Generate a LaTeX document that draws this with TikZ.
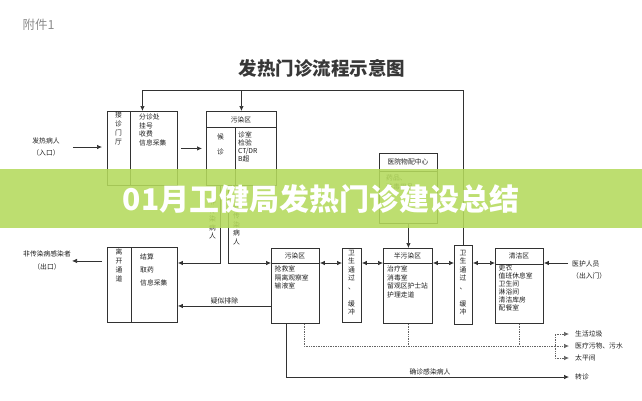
\documentclass[tikz,border=0pt]{standalone}
\usepackage{fontspec}
\setmainfont{Noto Sans CJK SC}
\usetikzlibrary{arrows.meta,positioning}
\definecolor{linegray}{RGB}{50,50,50}
\definecolor{textgray}{RGB}{30,30,30}
\definecolor{titlegray}{RGB}{55,55,55}
\definecolor{notegray}{RGB}{140,140,140}
\definecolor{dotgray}{RGB}{100,100,100}
\definecolor{bannergreen}{RGB}{180,218,92}

\tikzset{
  area/.style={draw=linegray, line width=0.9pt, inner sep=0pt, anchor=north west},
  rule/.style={draw=linegray, line width=0.9pt},
  item/.style={font=\fontsize{6.8}{8.5}\selectfont, text=textgray, inner sep=0pt, anchor=north west, align=left},
  vcol/.style={font=\fontsize{6.8}{9}\selectfont, text=textgray, inner sep=0pt, anchor=north, align=center},
  head/.style={font=\fontsize{6.8}{7}\selectfont, text=textgray, inner sep=0pt},
  lbl/.style={font=\fontsize{6.8}{7}\selectfont, text=textgray, inner sep=1pt},
  flow/.style={draw=linegray, line width=0.7pt, -{Latex[length=5pt,width=4.5pt]}},
  both/.style={flow, {Latex[length=5pt,width=4.5pt]}-{Latex[length=5pt,width=4.5pt]}},
  waste/.style={flow, draw=dotgray, densely dotted},
  dots/.style={draw=dotgray, line width=0.7pt, densely dotted},
}

\begin{document}
\begin{tikzpicture}[x=1pt, y=-1pt]
  \useasboundingbox (0,0) rectangle (642,400);

  % Heading
  \node[anchor=west, font=\fontsize{12.5}{13}\selectfont, text=notegray] (annex) at (19,25) {附件1};
  \node[font=\fontsize{18.5}{19}\selectfont\bfseries, text=titlegray] (title) at (322,68) {发热门诊流程示意图};

  % Areas
  \node[area, minimum width=70pt, minimum height=74pt] (recp) at (107,111) {};
  \node[area, minimum width=70pt, minimum height=74pt] (wait) at (206,111) {};
  \node[area, minimum width=58pt, minimum height=70pt] (supply) at (379,153) {};
  \node[area, minimum width=70pt, minimum height=75pt] (exitb) at (107,247) {};
  \node[area, minimum width=48pt, minimum height=75pt] (polz) at (271,248) {};
  \node[area, minimum width=19pt, minimum height=74pt] (buf1) at (342,248) {};
  \node[area, minimum width=49pt, minimum height=75pt] (semi) at (383,248) {};
  \node[area, minimum width=18pt, minimum height=79pt] (buf2) at (454,245) {};
  \node[area, minimum width=48pt, minimum height=75pt] (clean) at (495,248) {};

  % Inner rules
  \draw[rule] ([xshift=23pt]recp.north west) -- ([xshift=23pt]recp.south west);
  \draw[rule] ([yshift=-16pt]wait.north west) -- ([yshift=-16pt]wait.north east);
  \draw[rule] ([xshift=29pt,yshift=-16pt]wait.north west) -- ([xshift=29pt]wait.south west);
  \draw[rule] ([yshift=-18pt]supply.north west) -- ([yshift=-18pt]supply.north east);
  \draw[rule] ([xshift=24pt]exitb.north west) -- ([xshift=24pt]exitb.south west);
  \foreach \zone/\dy in {polz/15, semi/15, clean/16}
    \draw[rule] ([yshift=-\dy pt]\zone.north west) -- ([yshift=-\dy pt]\zone.north east);

  % Texts in areas
  \node[vcol] (recpL) at (118.5,112) {接\\诊\\门\\厅};
  \node[item] (recpR) at (139,114) {分诊处\\挂号\\收费\\信息采集};
  \node[head] (waitH) at (241,120) {污染区};
  \node[vcol] (waitL) at (220.5,134) {候\\[6pt]诊};
  \node[item, font=\fontsize{6.8}{8}\selectfont] (waitR) at (238,132) {诊室\\检验\\CT/DR\\B超};
  \node[head] (supplyH) at (408,162) {医院物配中心};
  \node[item] (supplyR) at (386,175) {药品、\\消毒用品};
  \node[vcol] (exitL) at (119,249) {离\\开\\通\\道};
  \node[item, font=\fontsize{6.8}{13}\selectfont] (exitR) at (140,254) {结算\\取药\\信息采集};
  \node[head] (polzH) at (295,255.5) {污染区};
  \node[item] (polzR) at (274.5,266) {抢救室\\隔离观察室\\输液室};
  \node[vcol, font=\fontsize{6.8}{8.5}\selectfont] (buf1T) at (351.5,250) {卫\\生\\通\\过\\、\\[8.5pt]缓\\冲};
  \node[head] (semiH) at (407.5,255.5) {半污染区};
  \node[item] (semiR) at (387,266) {治疗室\\消毒室\\留观区护士站\\护理走道};
  \node[vcol, font=\fontsize{6.8}{8.5}\selectfont] (buf2T) at (463,250) {卫\\生\\通\\过\\、\\[8.5pt]缓\\冲};
  \node[head] (cleanH) at (519,256) {清洁区};
  \node[item, font=\fontsize{6.8}{8}\selectfont] (cleanR) at (498.5,265) {更衣\\值班休息室\\卫生间\\淋浴间\\清洁库房\\配餐室};

  % Outside labels
  \node[lbl, align=center] (inp) at (46,147) {发热病人\\[5pt]（入口）};
  \node[lbl, align=center] (outp) at (47,260.5) {非传染病感染者\\[6pt]（出口）};
  \node[lbl, align=left, anchor=west] (staff) at (571,270) {医护人员\\[5pt]（出入门）};
  \node[vcol, font=\fontsize{6.8}{8.5}\selectfont] (nonL) at (212.5,199) {非\\传\\染\\病\\人};
  \node[vcol, font=\fontsize{6.8}{8.5}\selectfont] (susL) at (236.5,196) {疑\\似\\传\\染\\病\\人};
  \node[lbl, anchor=west] (trash) at (574,334) {生活垃圾};
  \node[lbl, anchor=west] (medw) at (574,346) {医疗污物、污水};
  \node[lbl, anchor=west] (morgue) at (574,358) {太平间};
  \node[lbl, anchor=west] (refer) at (574,377) {转诊};

  % Patient flow
  \coordinate (topL) at (143,90);
  \coordinate (row) at (0,263);
  \draw[flow] (buf2.north) |- (recp.north |- topL) -- (recp.north);
  \draw[flow] (wait.north |- topL) -- (wait.north);
  \draw[flow, shorten <=12pt, shorten >=5pt] (inp.east) -- (inp.east -| recp.west);
  \draw[flow, shorten <=3pt, shorten >=4pt] (recp.east) -- (wait.west);
  \draw[flow] (supply.south) -- (supply.south |- semi.north);
  \draw[flow] ([xshift=14pt]wait.south west) |- (exitb.east |- row);
  \draw[flow] ([xshift=22pt]wait.south west) |- (polz.west |- row);
  \foreach \a/\b in {polz/buf1, buf1/semi, semi/buf2, buf2/clean}
    \draw[both] (\a.east |- row) -- (\b.west |- row);
  \draw[flow, shorten <=3pt] (staff.west |- row) -- (clean.east |- row);
  \draw[flow] ([yshift=-20pt]polz.west) -- ([yshift=-20pt]polz.west -| exitb.east)
    node[lbl, midway, above=1pt] {疑似排除};
  \draw[flow, shorten <=5pt] ([yshift=24pt]exitb.west) -- ([yshift=24pt]exitb.west -| outp.east);
  \draw[flow, shorten >=5pt] ([xshift=15pt]polz.south west) |- (refer.west)
    node[lbl, pos=0.75, above=1pt] {确诊感染病人};

  % Waste flow
  \coordinate (jn) at (555,346);
  \draw[dots] ([xshift=33pt]polz.south west) |- (jn);
  \draw[dots] (semi.south) -- (semi.south |- jn);
  \draw[dots] (clean.south) -- (clean.south |- jn);
  \draw[waste, shorten >=5pt] (jn) -- (medw.west);
  \draw[waste, shorten >=5pt] (jn) |- (trash.west);
  \draw[waste, shorten >=5pt] (jn) |- (morgue.west);

  % Banner
  \fill[bannergreen, fill opacity=0.88] (0,169) rectangle (642,228);
  \node[font=\fontsize{30}{30}\selectfont\bfseries, text=white] (banner) at (321,199) {01月卫健局发热门诊建设总结};
\end{tikzpicture}
\end{document}
